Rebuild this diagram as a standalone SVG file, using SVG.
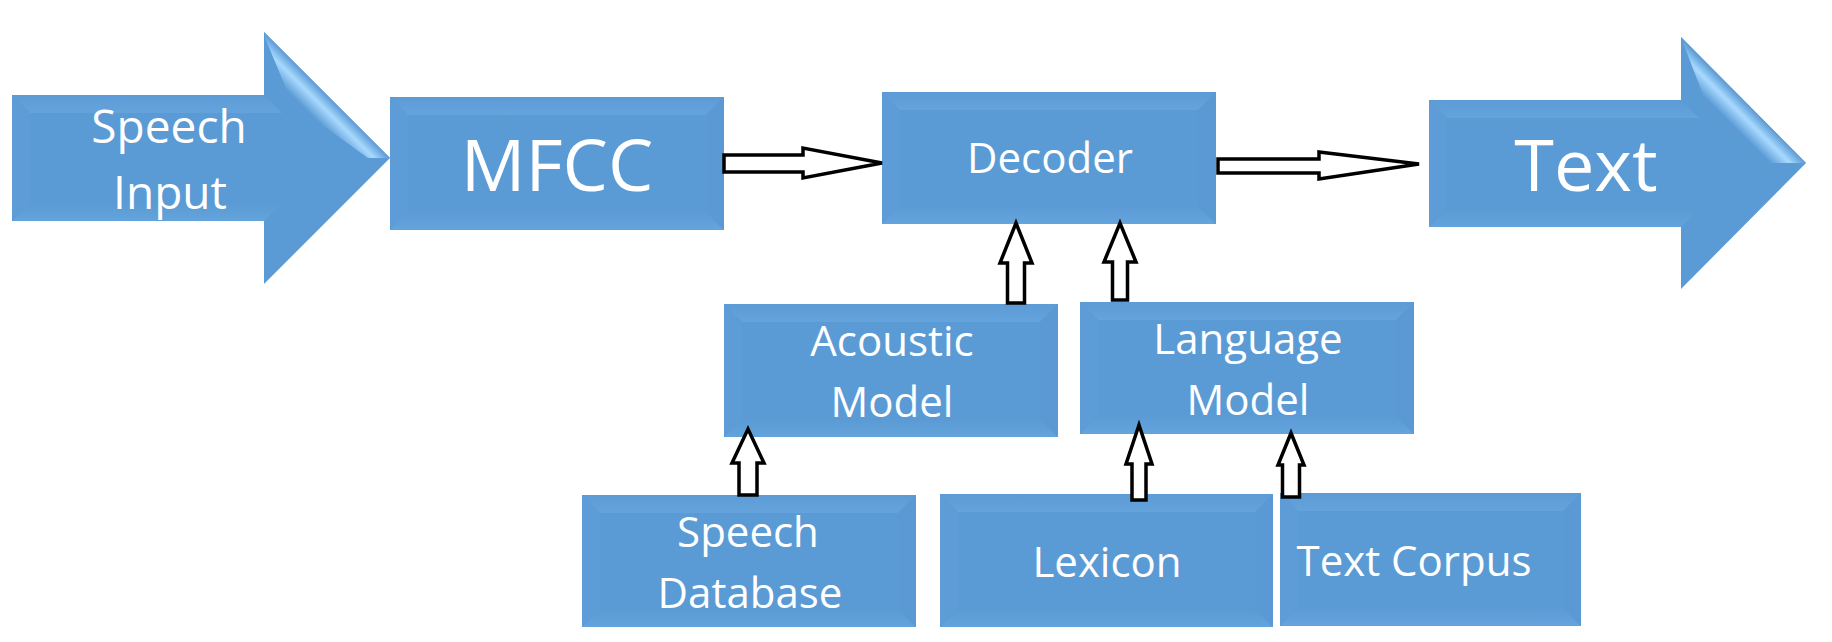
<svg xmlns="http://www.w3.org/2000/svg" width="1832" height="642" viewBox="0 0 1832 642">
<defs>
<linearGradient id="bt" x1="0" y1="0" x2="0" y2="1"><stop offset="0" stop-color="#5C9BD5"/><stop offset="1" stop-color="#64A3DC"/></linearGradient>
<linearGradient id="bb" x1="0" y1="0" x2="0" y2="1"><stop offset="0" stop-color="#5B9AD4"/><stop offset="1" stop-color="#64A4DD"/></linearGradient>
<linearGradient id="h1" gradientUnits="userSpaceOnUse" x1="327" y1="95" x2="309" y2="113"><stop offset="0" stop-color="#5C9BD5"/><stop offset="0.45" stop-color="#A8DAFF"/><stop offset="1" stop-color="#5B9AD4"/></linearGradient>
<linearGradient id="h2" gradientUnits="userSpaceOnUse" x1="1743" y1="100" x2="1725" y2="118"><stop offset="0" stop-color="#5C9BD5"/><stop offset="0.45" stop-color="#A8DAFF"/><stop offset="1" stop-color="#5B9AD4"/></linearGradient>
<style>
.f{fill:#5B9BD5}
.t{fill:url(#bt)}
.b{fill:url(#bb)}
.l{fill:#5D9CD6}
.r{fill:#5A99D3}
.tx{font-family:"Open Sans","Noto Sans",sans-serif;fill:#FFFFFF;text-anchor:middle}
.s42{font-size:42px}
.s46{font-size:46px}
.s72{font-size:72px}
.c{fill:#FFFFFF;stroke:#000000;stroke-width:3.5;stroke-linejoin:miter}
</style>
</defs>
<rect width="1832" height="642" fill="#FFFFFF"/>

<g id="speech-input">
<polygon class="f" points="12,95 264,95 264,32 390,158 264,284 264,221 12,221"/>
<polygon class="t" points="12,95 264,95 282,113 30,113"/>
<polygon class="b" points="30,203 282,203 264,221 12,221"/>
<polygon class="l" points="12,95 30,113 30,203 12,221"/>
<polygon fill="url(#h1)" points="264,32 390,158 368,158 292,103 266,40"/>
<text class="tx s46" x="169" y="143">Speech</text>
<text class="tx s46" x="170" y="209">Input</text>
</g>

<g id="mfcc">
<rect class="f" x="390" y="97" width="334" height="133"/>
<polygon class="t" points="390,97 724,97 706,115 408,115"/>
<polygon class="b" points="408,212 706,212 724,230 390,230"/>
<polygon class="l" points="390,97 408,115 408,212 390,230"/>
<polygon class="r" points="724,97 706,115 706,212 724,230"/>
<text class="tx s72" x="557" y="191">MFCC</text>
</g>

<g id="decoder">
<rect class="f" x="882" y="92" width="334" height="132"/>
<polygon class="t" points="882,92 1216,92 1198,110 900,110"/>
<polygon class="b" points="900,206 1198,206 1216,224 882,224"/>
<polygon class="l" points="882,92 900,110 900,206 882,224"/>
<polygon class="r" points="1216,92 1198,110 1198,206 1216,224"/>
<text class="tx s42" x="1050" y="173">Decoder</text>
</g>

<g id="text-output">
<polygon class="f" points="1429,100 1681,100 1681,37 1806,163 1681,289 1681,227 1429,227"/>
<polygon class="t" points="1429,100 1681,100 1699,118 1447,118"/>
<polygon class="b" points="1447,209 1699,209 1681,227 1429,227"/>
<polygon class="l" points="1429,100 1447,118 1447,209 1429,227"/>
<polygon fill="url(#h2)" points="1681,37 1806,163 1767,163 1708,108 1684,45"/>
<text class="tx s72" x="1586" y="191">Text</text>
</g>

<g id="acoustic-model">
<rect class="f" x="724" y="304" width="334" height="133"/>
<polygon class="t" points="724,304 1058,304 1040,322 742,322"/>
<polygon class="b" points="742,419 1040,419 1058,437 724,437"/>
<polygon class="l" points="724,304 742,322 742,419 724,437"/>
<polygon class="r" points="1058,304 1040,322 1040,419 1058,437"/>
<text class="tx s42" x="892" y="356">Acoustic</text>
<text class="tx s42" x="892" y="417">Model</text>
</g>

<g id="language-model">
<rect class="f" x="1080" y="302" width="334" height="132"/>
<polygon class="t" points="1080,302 1414,302 1396,320 1098,320"/>
<polygon class="b" points="1098,416 1396,416 1414,434 1080,434"/>
<polygon class="l" points="1080,302 1098,320 1098,416 1080,434"/>
<polygon class="r" points="1414,302 1396,320 1396,416 1414,434"/>
<text class="tx s42" x="1248" y="354">Language</text>
<text class="tx s42" x="1248" y="415">Model</text>
</g>

<g id="speech-database">
<rect class="f" x="582" y="495" width="334" height="132"/>
<polygon class="t" points="582,495 916,495 898,513 600,513"/>
<polygon class="b" points="600,609 898,609 916,627 582,627"/>
<polygon class="l" points="582,495 600,513 600,609 582,627"/>
<polygon class="r" points="916,495 898,513 898,609 916,627"/>
<text class="tx s42" x="748" y="547">Speech</text>
<text class="tx s42" x="750" y="608">Database</text>
</g>

<g id="lexicon">
<rect class="f" x="940" y="494" width="333" height="133"/>
<polygon class="t" points="940,494 1273,494 1255,512 958,512"/>
<polygon class="b" points="958,609 1255,609 1273,627 940,627"/>
<polygon class="l" points="940,494 958,512 958,609 940,627"/>
<polygon class="r" points="1273,494 1255,512 1255,609 1273,627"/>
<text class="tx s42" x="1107" y="577">Lexicon</text>
</g>

<g id="text-corpus">
<rect class="f" x="1280" y="493" width="301" height="133"/>
<polygon class="t" points="1280,493 1581,493 1563,511 1298,511"/>
<polygon class="b" points="1298,608 1563,608 1581,626 1280,626"/>
<polygon class="l" points="1280,493 1298,511 1298,608 1280,626"/>
<polygon class="r" points="1581,493 1563,511 1563,608 1581,626"/>
<text class="tx s42" x="1414" y="576">Text Corpus</text>
</g>

<g id="connectors">
<polygon class="c" points="724,155 803,155 803,148 882,163 803,178 803,172 724,172"/>
<polygon class="c" points="1218,159 1319,159 1319,152 1419,164 1319,179 1319,173 1218,173"/>
<polygon class="c" points="1007.5,303 1007.5,263 1000,263 1016,223 1032,263 1024.5,263 1024.5,303"/>
<polygon class="c" points="1112.5,300 1112.5,262 1104,262 1120,223 1136,262 1127.5,262 1127.5,300"/>
<polygon class="c" points="739,495 739,463 732,463 748,429 764,463 757,463 757,495"/>
<polygon class="c" points="1132,500 1132,464 1126,464 1139,425 1152,464 1146,464 1146,500"/>
<polygon class="c" points="1282.5,497 1282.5,465 1278,465 1291,433 1304,465 1299.5,465 1299.5,497"/>
</g>
</svg>
